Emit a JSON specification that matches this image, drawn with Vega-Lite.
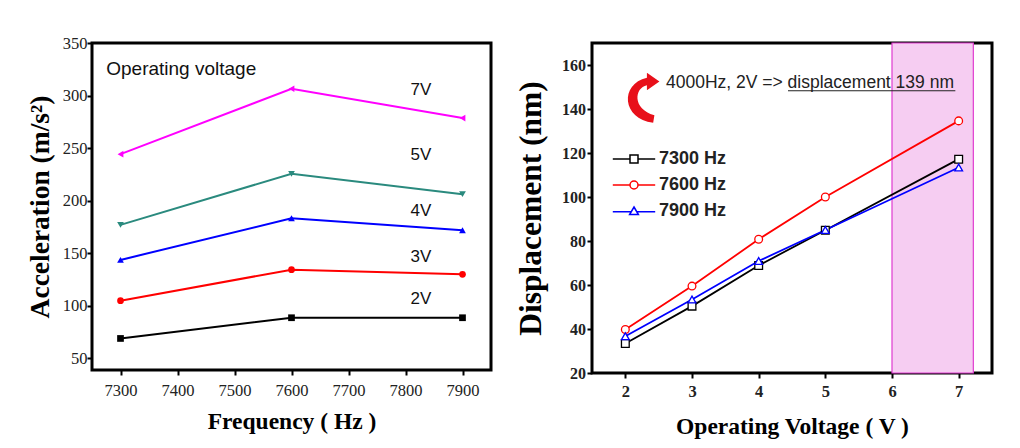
{
  "$schema": "https://vega.github.io/schema/vega-lite/v6.json",
  "background": "white",
  "padding": {"left": 24, "top": 33, "right": 5, "bottom": 5},
  "config": {
    "view": {"stroke": "black", "strokeWidth": 3},
    "axis": {"domain": false, "grid": false, "labelColor": "#222", "titleColor": "black", "titleFont": "Liberation Serif", "titleFontWeight": "bold", "titleFontSize": 23.5},
    "legend": {"orient": "none", "legendX": 533, "legendY": 107, "title": null, "labelFont": "Liberation Sans", "labelFontWeight": "bold", "labelFontSize": 18, "labelColor": "#222", "symbolSize": 64, "symbolStrokeWidth": 1.5, "symbolFillColor": "white", "labelOffset": 16, "rowPadding": 8}
  },
  "datasets": {
    "acc": [
      {"f": 7300, "a": 69, "v": "2V"}, {"f": 7600, "a": 88.7, "v": "2V"}, {"f": 7900, "a": 88.7, "v": "2V"},
      {"f": 7300, "a": 104.9, "v": "3V"}, {"f": 7600, "a": 134.4, "v": "3V"}, {"f": 7900, "a": 130, "v": "3V"},
      {"f": 7300, "a": 143.7, "v": "4V"}, {"f": 7600, "a": 183.3, "v": "4V"}, {"f": 7900, "a": 171.9, "v": "4V"},
      {"f": 7300, "a": 177, "v": "5V"}, {"f": 7600, "a": 225.6, "v": "5V"}, {"f": 7900, "a": 206.2, "v": "5V"},
      {"f": 7300, "a": 244.3, "v": "7V"}, {"f": 7600, "a": 306.5, "v": "7V"}, {"f": 7900, "a": 278.6, "v": "7V"}
    ],
    "vlabels": [
      {"f": 7827, "a": 305.6, "t": "7V"}, {"f": 7827, "a": 243.7, "t": "5V"}, {"f": 7827, "a": 190.3, "t": "4V"},
      {"f": 7827, "a": 146.8, "t": "3V"}, {"f": 7827, "a": 106.5, "t": "2V"}
    ],
    "heading": [{"f": 7275, "a": 325.2, "t": "Operating voltage"}],
    "disp": [
      {"u": 2, "d": 33.4, "h": "7300 Hz"}, {"u": 3, "d": 50.4, "h": "7300 Hz"}, {"u": 4, "d": 68.9, "h": "7300 Hz"}, {"u": 5, "d": 84.9, "h": "7300 Hz"}, {"u": 7, "d": 117.2, "h": "7300 Hz"},
      {"u": 2, "d": 39.8, "h": "7600 Hz"}, {"u": 3, "d": 59.5, "h": "7600 Hz"}, {"u": 4, "d": 80.8, "h": "7600 Hz"}, {"u": 5, "d": 100, "h": "7600 Hz"}, {"u": 7, "d": 134.6, "h": "7600 Hz"},
      {"u": 2, "d": 36.7, "h": "7900 Hz"}, {"u": 3, "d": 53.4, "h": "7900 Hz"}, {"u": 4, "d": 70.9, "h": "7900 Hz"}, {"u": 5, "d": 85, "h": "7900 Hz"}, {"u": 7, "d": 113.4, "h": "7900 Hz"}
    ],
    "region": [{"u0": 6, "u1": 7.22, "d0": 20, "d1": 170}],
    "note": [{"u": 2.61, "d": 152, "t": "4000Hz, 2V => displacement 139 nm"}],
    "underline": [{"u0": 4.44, "u1": 6.95, "d": 148.3}],
    "arrow": [{"u": 2.23, "d": 145.1}]
  },
  "hconcat": [
    {
      "width": 399,
      "height": 327,
      "layer": [
        {
          "data": {"name": "acc"},
          "mark": {"type": "line", "strokeWidth": 2},
          "encoding": {
            "x": {"field": "f", "type": "quantitative", "scale": {"domain": [7250, 7950], "nice": false, "zero": false},
              "axis": {"title": "Frequency ( Hz )", "values": [7300, 7350, 7400, 7450, 7500, 7550, 7600, 7650, 7700, 7750, 7800, 7850, 7900], "format": "d", "labelExpr": "datum.value % 100 === 0 ? datum.label : ''", "ticks": true, "offset": 0, "tickSize": 5, "tickColor": "black", "tickWidth": 2, "labelPadding": 7, "labelFont": "Liberation Serif", "labelFontSize": 16.5, "titlePadding": 11}},
            "y": {"field": "a", "type": "quantitative", "scale": {"domain": [39, 350], "nice": false, "zero": false},
              "axis": {"title": "Acceleration (m/s²)", "titleFontSize": 27.5, "values": [50, 75, 100, 125, 150, 175, 200, 225, 250, 275, 300, 325, 350], "labelExpr": "datum.value % 50 === 0 ? datum.label : ''", "ticks": true, "offset": 0, "tickSize": 5, "tickColor": "black", "tickWidth": 2, "labelPadding": 0, "labelFont": "Liberation Serif", "labelFontSize": 16.5, "titlePadding": 8}},
            "color": {"field": "v", "type": "nominal", "scale": {"domain": ["2V", "3V", "4V", "5V", "7V"], "range": ["#000000", "#ff0000", "#0000ff", "#2a8a7e", "#ff00ff"]}, "legend": null}
          }
        },
        {
          "data": {"name": "acc"},
          "mark": {"type": "point", "filled": true, "size": 45, "opacity": 1},
          "encoding": {
            "x": {"field": "f", "type": "quantitative"},
            "y": {"field": "a", "type": "quantitative"},
            "color": {"field": "v", "type": "nominal", "legend": null},
            "shape": {"field": "v", "type": "nominal", "scale": {"domain": ["2V", "3V", "4V", "5V", "7V"], "range": ["square", "circle", "triangle-up", "triangle-down", "triangle-left"]}, "legend": null}
          }
        },
        {
          "data": {"name": "vlabels"},
          "mark": {"type": "text", "font": "Liberation Sans", "fontSize": 17, "align": "center", "baseline": "middle", "color": "#111"},
          "encoding": {
            "x": {"field": "f", "type": "quantitative"},
            "y": {"field": "a", "type": "quantitative"},
            "text": {"field": "t"}
          }
        },
        {
          "data": {"name": "heading"},
          "mark": {"type": "text", "font": "Liberation Sans", "fontSize": 19, "align": "left", "baseline": "middle", "color": "#111"},
          "encoding": {
            "x": {"field": "f", "type": "quantitative"},
            "y": {"field": "a", "type": "quantitative"},
            "text": {"field": "t"}
          }
        }
      ]
    },
    {
      "width": 400,
      "height": 330,
      "layer": [
        {
          "data": {"name": "region"},
          "mark": {"type": "rect", "fill": "#f6cdf2", "stroke": "#e03cd0", "strokeWidth": 1.2},
          "encoding": {
            "x": {"field": "u0", "type": "quantitative", "scale": {"domain": [1.5, 7.5], "nice": false, "zero": false},
              "axis": {"title": "Operating Voltage ( V )", "values": [2, 2.5, 3, 3.5, 4, 4.5, 5, 5.5, 6, 6.5, 7], "format": "d", "labelExpr": "datum.value % 1 === 0 ? datum.label : ''", "ticks": true, "offset": 0, "tickSize": 5, "tickColor": "black", "tickWidth": 2, "labelPadding": 5, "labelFont": "Liberation Serif", "labelFontWeight": "bold", "labelFontSize": 16.5, "titlePadding": 15}},
            "x2": {"field": "u1"},
            "y": {"field": "d0", "type": "quantitative", "scale": {"domain": [20, 170], "nice": false, "zero": false},
              "axis": {"title": "Displacement (nm)", "titleFontSize": 31.5, "values": [20, 30, 40, 50, 60, 70, 80, 90, 100, 110, 120, 130, 140, 150, 160], "labelExpr": "datum.value % 20 === 0 ? datum.label : ''", "ticks": true, "offset": 0, "tickSize": 5, "tickColor": "black", "tickWidth": 2, "labelPadding": 1.5, "labelFont": "Liberation Serif", "labelFontWeight": "bold", "labelFontSize": 16, "titlePadding": 14}},
            "y2": {"field": "d1"}
          }
        },
        {
          "mark": {"type": "rule", "strokeDash": [2.5, 2.5], "strokeWidth": 2.5, "color": "black"},
          "encoding": {"y": {"datum": 137, "type": "quantitative"}}
        },
        {
          "data": {"name": "disp"},
          "mark": {"type": "line", "strokeWidth": 1.8},
          "encoding": {
            "x": {"field": "u", "type": "quantitative"},
            "y": {"field": "d", "type": "quantitative"},
            "stroke": {"field": "h", "type": "nominal", "title": null, "scale": {"domain": ["7300 Hz", "7600 Hz", "7900 Hz"], "range": ["#000000", "#ff0000", "#0000ff"]},
              "legend": {"encode": {"symbols": {"update": {"shape": {"signal": "datum.value === '7300 Hz' ? 'M-5.3,0H-1M1,0H5.3M-1,-1H1V1H-1Z' : datum.value === '7600 Hz' ? 'M-5.3,0H-1M1,0H5.3M-1,0A1,1 0 1,0 1,0A1,1 0 1,0 -1,0Z' : 'M-5.3,0.2H-0.65M0.65,0.2H5.3M0,-1L1.1,0.9H-1.1Z'"}}}}}}
          }
        },
        {
          "data": {"name": "disp"},
          "mark": {"type": "point", "filled": false, "fill": "white", "fillOpacity": 1, "strokeWidth": 1.3, "size": 60, "opacity": 1},
          "encoding": {
            "x": {"field": "u", "type": "quantitative"},
            "y": {"field": "d", "type": "quantitative"},
            "stroke": {"field": "h", "type": "nominal", "title": null,
              "legend": {"encode": {"symbols": {"update": {"shape": {"signal": "datum.value === '7300 Hz' ? 'M-5.3,0H-1M1,0H5.3M-1,-1H1V1H-1Z' : datum.value === '7600 Hz' ? 'M-5.3,0H-1M1,0H5.3M-1,0A1,1 0 1,0 1,0A1,1 0 1,0 -1,0Z' : 'M-5.3,0.2H-0.65M0.65,0.2H5.3M0,-1L1.1,0.9H-1.1Z'"}}}}}},
            "shape": {"field": "h", "type": "nominal", "title": null, "scale": {"domain": ["7300 Hz", "7600 Hz", "7900 Hz"], "range": ["square", "circle", "triangle-up"]},
              "legend": {"encode": {"symbols": {"update": {"shape": {"signal": "datum.value === '7300 Hz' ? 'M-5.3,0H-1M1,0H5.3M-1,-1H1V1H-1Z' : datum.value === '7600 Hz' ? 'M-5.3,0H-1M1,0H5.3M-1,0A1,1 0 1,0 1,0A1,1 0 1,0 -1,0Z' : 'M-5.3,0.2H-0.65M0.65,0.2H5.3M0,-1L1.1,0.9H-1.1Z'"}}}}}}
          }
        },
        {
          "data": {"name": "note"},
          "mark": {"type": "text", "font": "Liberation Sans", "fontSize": 17.5, "align": "left", "baseline": "middle", "color": "#222"},
          "encoding": {
            "x": {"field": "u", "type": "quantitative"},
            "y": {"field": "d", "type": "quantitative"},
            "text": {"field": "t"}
          }
        },
        {
          "data": {"name": "underline"},
          "mark": {"type": "rule", "strokeWidth": 1.2, "color": "#222"},
          "encoding": {
            "x": {"field": "u0", "type": "quantitative"},
            "x2": {"field": "u1"},
            "y": {"field": "d", "type": "quantitative"}
          }
        },
        {
          "data": {"name": "arrow"},
          "mark": {"type": "point", "filled": true, "color": "#e8101a", "size": 2500, "opacity": 1, "shape": "M0.25,-1 L0.75,-0.65 L0.25,-0.3 L0.25,-0.5 C-0.25,-0.4 -0.35,0.45 0.55,0.7 L0.5,1 C-0.75,0.85 -0.85,-0.55 0.25,-0.8 Z"},
          "encoding": {
            "x": {"field": "u", "type": "quantitative"},
            "y": {"field": "d", "type": "quantitative"}
          }
        }
      ]
    }
  ],
  "spacing": 101,
  "bounds": "flush"
}
